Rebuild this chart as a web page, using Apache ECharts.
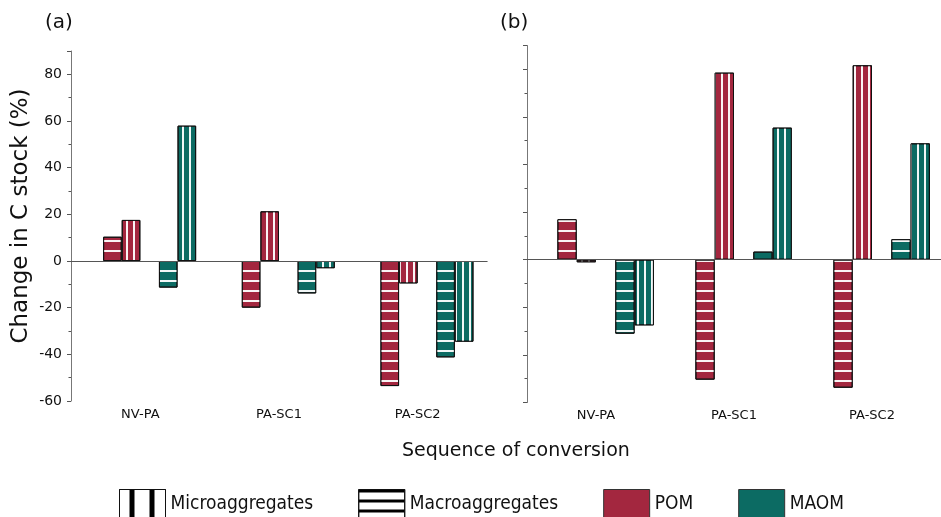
<!DOCTYPE html>
<html>
<head>
<meta charset="utf-8">
<script src="https://cdn.jsdelivr.net/npm/echarts@6/dist/echarts.min.js"></script>
<style>
  html, body { margin: 0; padding: 0; background: #fff; }
  #chart { width: 941px; height: 517px; }
</style>
</head>
<body>
<div id="chart"></div>
<script>
// categories (sequence of conversion)
var categories = ['NV-PA', 'PA-SC1', 'PA-SC2'];

// panel (a) values, % change in C stock
var aPomMacro = [10.4, -20.0, -53.6];
var aPomMicro = [17.6, 21.3, -9.6];
var aMaomMacro = [-11.4, -13.9, -41.3];
var aMaomMicro = [58.0, -3.1, -34.6];

// panel (b) values
var bPomMacro = [17.0, -50.4, -53.8];
var bPomMicro = [-1.1, 78.6, 81.7];
var bMaomMacro = [-31.1, 3.4, 8.6];
var bMaomMicro = [-27.6, 55.5, 48.9];

var legendNames = ['Microaggregates', 'Macroaggregates', 'POM', 'MAOM'];

var RED = '#a3273f';
var TEAL = '#0c6b63';
var FONT = 'DejaVu Sans';
var empty = ['-', '-', '-'];

// white stripes inside the bars
var hStripes = { symbol: 'rect', symbolSize: 1, color: 'rgba(255,255,255,0.95)', dashArrayX: [20, 0], dashArrayY: [2, 8] };
var vStripes = { symbol: 'rect', symbolSize: 1, color: 'rgba(255,255,255,0.95)', dashArrayX: [2, 5], dashArrayY: [20, 0] };
// black stripes for the legend boxes
var microKey = { symbol: 'rect', symbolSize: 1, color: '#000', dashArrayX: [0, 10, 5, 5], dashArrayY: [20, 0] };
var macroKey = { symbol: 'rect', symbolSize: 1, color: '#000', dashArrayX: [20, 0], dashArrayY: [3, 7] };

function bar(name, data, xi, yi, color, decal, width) {
  var s = {
    name: name,
    type: 'bar',
    xAxisIndex: xi,
    yAxisIndex: yi,
    data: data,
    barWidth: width,
    barGap: '0%',
    itemStyle: { color: color, borderColor: '#111', borderWidth: 1 }
  };
  if (decal) s.itemStyle.decal = decal;
  return s;
}

function zeroLine(s) {
  s.markLine = {
    silent: true,
    symbol: ['none', 'none'],
    label: { show: false },
    lineStyle: { color: '#555', width: 1, type: 'solid' },
    data: [{ yAxis: 0 }]
  };
  return s;
}

function mainX(gi) {
  return {
    type: 'category', gridIndex: gi, data: categories, position: 'bottom',
    axisLine: { lineStyle: { color: '#111', width: 1 } },
    axisTick: { alignWithLabel: true, length: 4, lineStyle: { color: '#111' } },
    axisLabel: { fontSize: 13, color: '#111', margin: 7, fontFamily: FONT }
  };
}
function edgeX(gi) {
  return {
    type: 'category', gridIndex: gi, data: categories, position: 'bottom',
    axisLine: { show: false },
    axisTick: { length: 3, lineStyle: { color: '#444' } },
    axisLabel: { show: false }
  };
}
function yAx(gi, labels) {
  return {
    type: 'value', gridIndex: gi, min: -60, max: 90, interval: 20,
    axisLine: { show: true, lineStyle: { color: '#777' } },
    axisTick: { show: true, length: 4, lineStyle: { color: '#555' } },
    minorTick: { show: true, splitNumber: 2, length: 2.5, lineStyle: { color: '#555' } },
    splitLine: { show: false },
    axisLabel: { show: labels, showMaxLabel: false, fontSize: 14, color: '#111', margin: 9, fontFamily: FONT },
    name: labels ? 'Change in C stock (%)' : '',
    nameLocation: 'middle',
    nameGap: 38,
    nameTextStyle: { fontSize: 23, color: '#111', fontFamily: FONT, padding: [0, 0, 0, 20] }
  };
}

var chart = echarts.init(document.getElementById('chart'));
chart.setOption({
  animation: false,
  title: [
    { text: '(a)', left: 40, top: 8, textStyle: { fontSize: 20, fontWeight: 'normal', color: '#111', fontFamily: FONT } },
    { text: '(b)', left: 495, top: 8, textStyle: { fontSize: 20, fontWeight: 'normal', color: '#111', fontFamily: FONT } },
    { text: 'Sequence of conversion', left: 397, top: 437, textStyle: { fontSize: 19, fontWeight: 'normal', color: '#111', fontFamily: FONT } }
  ],
  legend: {
    left: 119, top: 489,
    padding: 0,
    icon: 'rect',
    itemWidth: 46, itemHeight: 30, itemGap: 45,
    selectedMode: false,
    textStyle: { fontSize: 19, color: '#111', fontFamily: 'DejaVu Sans Condensed' },
    data: [
      { name: 'Microaggregates', itemStyle: { color: '#fff', borderColor: '#111', borderWidth: 1, decal: microKey } },
      { name: 'Macroaggregates', itemStyle: { color: '#fff', borderColor: '#111', borderWidth: 1, decal: macroKey } },
      { name: 'POM', itemStyle: { color: RED, borderColor: '#333', borderWidth: 1 } },
      { name: 'MAOM', itemStyle: { color: TEAL, borderColor: '#333', borderWidth: 1 } }
    ]
  },
  grid: [
    { left: 71, top: 51, right: 454, bottom: 116 },
    { left: 527, top: 45.5, right: -9, bottom: 114.5 }
  ],
  xAxis: [mainX(0), edgeX(0), mainX(1), edgeX(1)],
  yAxis: [yAx(0, true), yAx(1, false)],
  series: [
    // panel (a): empty slot, POM pair, empty slot, MAOM pair
    bar(legendNames[0], empty, 0, 0, '#fff', microKey, 18.6),
    zeroLine(bar('POM macro (a)', aPomMacro, 0, 0, RED, hStripes, 18.6)),
    bar('POM micro (a)', aPomMicro, 0, 0, RED, vStripes, 18.6),
    bar(legendNames[1], empty, 0, 0, '#fff', macroKey, 18.6),
    bar('MAOM macro (a)', aMaomMacro, 0, 0, TEAL, hStripes, 18.6),
    bar('MAOM micro (a)', aMaomMicro, 0, 0, TEAL, vStripes, 18.6),
    // panel (b)
    bar(legendNames[2], empty, 2, 1, RED, null, 19.3),
    zeroLine(bar('POM macro (b)', bPomMacro, 2, 1, RED, hStripes, 19.3)),
    bar('POM micro (b)', bPomMicro, 2, 1, RED, vStripes, 19.3),
    bar(legendNames[3], empty, 2, 1, TEAL, null, 19.3),
    bar('MAOM macro (b)', bMaomMacro, 2, 1, TEAL, hStripes, 19.3),
    bar('MAOM micro (b)', bMaomMicro, 2, 1, TEAL, vStripes, 19.3)
  ]
});
</script>
</body>
</html>
